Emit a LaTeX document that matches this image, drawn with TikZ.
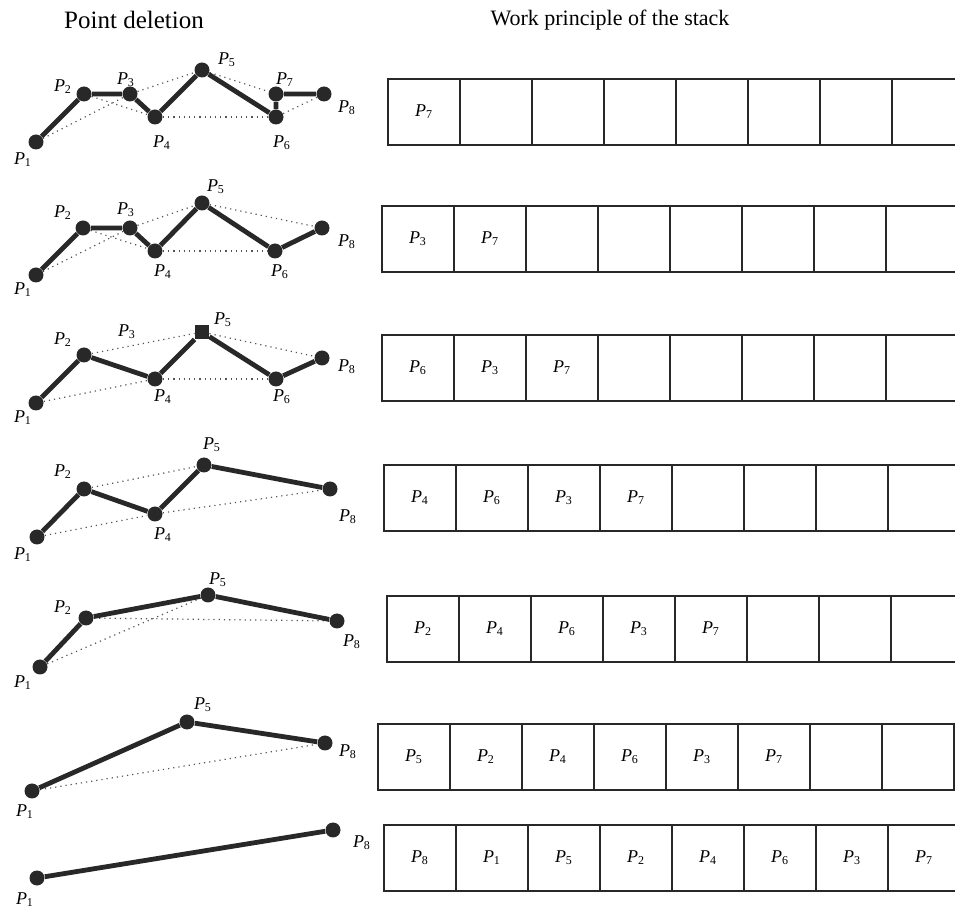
\documentclass[tikz,border=0pt]{standalone}
\usepackage{fontspec}
\setmainfont{Liberation Serif}
\usetikzlibrary{positioning}
\definecolor{ink}{RGB}{40,40,40}
\definecolor{haze}{RGB}{85,85,85}
\newcommand{\Pn}[1]{\textit{P}\textsubscript{#1}}

\begin{document}
\begin{tikzpicture}[
  x=0.5pt, y=-0.5pt,
  dot/.style={circle, fill=ink, minimum size=7.5pt, inner sep=0pt},
  sqdot/.style={rectangle, fill=ink, minimum size=7pt, inner sep=0pt},
  poly/.style={draw=ink, line width=2.4pt},
  chord/.style={draw=haze, line width=0.6pt, dotted},
  lbl/.style={font=\fontsize{9}{9}\selectfont, inner sep=0pt},
  cell/.style={draw=ink, line width=1.4pt, minimum width=36pt,
               minimum height=33pt, inner sep=0pt,
               font=\fontsize{9}{9}\selectfont},
  ttl/.style={font=\fontsize{12.5}{14}\selectfont}]
  \useasboundingbox (0,0) rectangle (955,909);
  \clip (0,0) rectangle (955,909);

  \node[ttl] (tdel) at (134,20) {Point deletion};
  \node[ttl, font=\fontsize{11}{13}\selectfont] (tstk) at (610,20) {Work principle of the stack};

  % step 1
  \node[dot] (a1) at (36,142) {};
  \node[dot] (a2) at (84,94) {};
  \node[dot] (a3) at (130,94) {};
  \node[dot] (a4) at (155,117) {};
  \node[dot] (a5) at (202,70) {};
  \node[dot] (a6) at (276,117) {};
  \node[dot] (a7) at (276,94) {};
  \node[dot] (a8) at (324,94) {};
  \draw[chord] (a1) -- (a3); \draw[chord] (a2) -- (a4);
  \draw[chord] (a3) -- (a5); \draw[chord] (a4) -- (a6);
  \draw[chord] (a5) -- (a7); \draw[chord] (a6) -- (a8);
  \draw[poly] (a1) -- (a2) -- (a3) -- (a4) -- (a5) -- (a6) -- (a7) -- (a8);
  \node[lbl] (la1) at (23,160) {\Pn{1}};
  \node[lbl] (la2) at (63,87) {\Pn{2}};
  \node[lbl] (la3) at (126,80) {\Pn{3}};
  \node[lbl] (la4) at (162,143) {\Pn{4}};
  \node[lbl] (la5) at (227,60) {\Pn{5}};
  \node[lbl] (la6) at (282,143) {\Pn{6}};
  \node[lbl] (la7) at (285,80) {\Pn{7}};
  \node[lbl] (la8) at (347,108) {\Pn{8}};

  % step 2
  \node[dot] (b1) at (36,275) {};
  \node[dot] (b2) at (83,228) {};
  \node[dot] (b3) at (130,228) {};
  \node[dot] (b4) at (155,251) {};
  \node[dot] (b5) at (202,203) {};
  \node[dot] (b6) at (275,251) {};
  \node[dot] (b8) at (322,228) {};
  \draw[chord] (b1) -- (b3); \draw[chord] (b2) -- (b4);
  \draw[chord] (b3) -- (b5); \draw[chord] (b4) -- (b6);
  \draw[chord] (b5) -- (b8);
  \draw[poly] (b1) -- (b2) -- (b3) -- (b4) -- (b5) -- (b6) -- (b8);
  \node[lbl] (lb1) at (23,290) {\Pn{1}};
  \node[lbl] (lb2) at (63,213) {\Pn{2}};
  \node[lbl] (lb3) at (126,210) {\Pn{3}};
  \node[lbl] (lb4) at (163,272) {\Pn{4}};
  \node[lbl] (lb5) at (216,187) {\Pn{5}};
  \node[lbl] (lb6) at (280,272) {\Pn{6}};
  \node[lbl] (lb8) at (347,242) {\Pn{8}};

  % step 3
  \node[dot] (c1) at (36,403) {};
  \node[dot] (c2) at (84,355) {};
  \node[dot] (c4) at (155,379) {};
  \node[sqdot] (c5) at (202,332) {};
  \node[dot] (c6) at (276,379) {};
  \node[dot] (c8) at (322,358) {};
  \draw[chord] (c1) -- (c4); \draw[chord] (c2) -- (c5);
  \draw[chord] (c4) -- (c6); \draw[chord] (c5) -- (c8);
  \draw[poly] (c1) -- (c2) -- (c4) -- (c5) -- (c6) -- (c8);
  \node[lbl] (lc1) at (23,418) {\Pn{1}};
  \node[lbl] (lc2) at (63,340) {\Pn{2}};
  \node[lbl] (lc3) at (127,332) {\Pn{3}};
  \node[lbl] (lc4) at (163,397) {\Pn{4}};
  \node[lbl] (lc5) at (223,320) {\Pn{5}};
  \node[lbl] (lc6) at (282,397) {\Pn{6}};
  \node[lbl] (lc8) at (347,367) {\Pn{8}};

  % step 4
  \node[dot] (d1) at (37,537) {};
  \node[dot] (d2) at (84,489) {};
  \node[dot] (d4) at (155,514) {};
  \node[dot] (d5) at (204,465) {};
  \node[dot] (d8) at (330,489) {};
  \draw[chord] (d1) -- (d4); \draw[chord] (d2) -- (d5);
  \draw[chord] (d4) -- (d8);
  \draw[poly] (d1) -- (d2) -- (d4) -- (d5) -- (d8);
  \node[lbl] (ld1) at (23,555) {\Pn{1}};
  \node[lbl] (ld2) at (63,472) {\Pn{2}};
  \node[lbl] (ld4) at (163,535) {\Pn{4}};
  \node[lbl] (ld5) at (212,445) {\Pn{5}};
  \node[lbl] (ld8) at (348,517) {\Pn{8}};

  % step 5
  \node[dot] (e1) at (40,667) {};
  \node[dot] (e2) at (86,618) {};
  \node[dot] (e5) at (208,595) {};
  \node[dot] (e8) at (337,621) {};
  \draw[chord] (e1) -- (e5); \draw[chord] (e2) -- (e8);
  \draw[poly] (e1) -- (e2) -- (e5) -- (e8);
  \node[lbl] (le1) at (23,683) {\Pn{1}};
  \node[lbl] (le2) at (63,608) {\Pn{2}};
  \node[lbl] (le5) at (218,580) {\Pn{5}};
  \node[lbl] (le8) at (352,642) {\Pn{8}};

  % step 6
  \node[dot] (f1) at (32,791) {};
  \node[dot] (f5) at (187,722) {};
  \node[dot] (f8) at (325,743) {};
  \draw[chord] (f1) -- (f8);
  \draw[poly] (f1) -- (f5) -- (f8);
  \node[lbl] (lf1) at (25,812) {\Pn{1}};
  \node[lbl] (lf5) at (203,705) {\Pn{5}};
  \node[lbl] (lf8) at (348,752) {\Pn{8}};

  % step 7
  \node[dot] (g1) at (37,878) {};
  \node[dot] (g8) at (333,830) {};
  \draw[poly] (g1) -- (g8);
  \node[lbl] (lg1) at (25,900) {\Pn{1}};
  \node[lbl] (lg8) at (362,843) {\Pn{8}};

  % stack rows, 0 = empty cell
  \foreach \r/\lx/\cy/\items in {
      1/388/112/{7,0,0,0,0,0,0,0},
      2/382/239/{3,7,0,0,0,0,0,0},
      3/382/368/{6,3,7,0,0,0,0,0},
      4/384/498/{4,6,3,7,0,0,0,0},
      5/387/629/{2,4,6,3,7,0,0,0},
      6/378/757/{5,2,4,6,3,7,0,0},
      7/384/858/{8,1,5,2,4,6,3,7}} {
    \foreach \it [count=\c] in \items {
      \node[cell] (s\r-\c) at (\lx+\c*72-36,\cy) {\ifnum\it>0 \Pn{\it}\fi};
    }
  }
\end{tikzpicture}
\end{document}
